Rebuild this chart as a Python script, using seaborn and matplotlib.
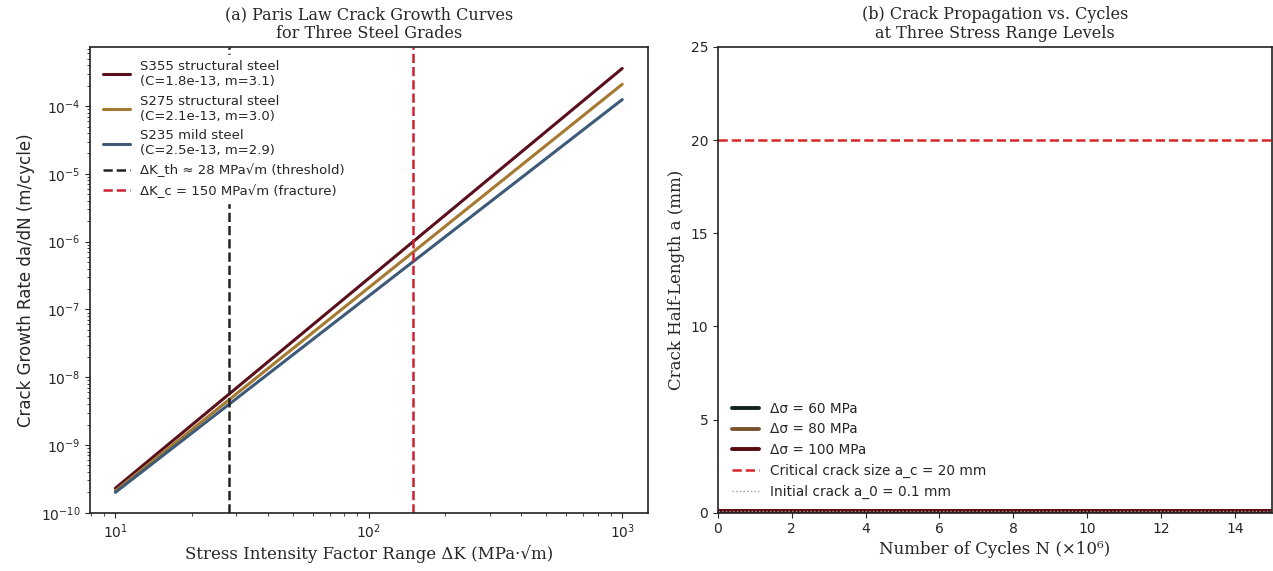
import numpy as np
import pandas as pd
import matplotlib
matplotlib.use("Agg")
import matplotlib.pyplot as plt
import seaborn as sns

# ---- data ----
delta_k = [10, 1000]                       # MPa*sqrt(m)
rate_s355 = [2.3e-10, 3.6e-4]              # m/cycle
rate_s275 = [2.1e-10, 2.1e-4]
rate_s235 = [2.0e-10, 1.25e-4]
steel_labels = ["S355 structural steel\n(C=1.8e-13, m=3.1)",
                "S275 structural steel\n(C=2.1e-13, m=3.0)",
                "S235 mild steel\n(C=2.5e-13, m=2.9)"]
dk_threshold = 28
dk_fracture = 150

cycles_n = [0, 15]                         # x10^6
crack_60 = [0.1, 0.1]                      # mm
crack_80 = [0.1, 0.1]
crack_100 = [0.1, 0.1]
stress_labels = ["Δσ = 60 MPa", "Δσ = 80 MPa", "Δσ = 100 MPa"]
a_critical = 20
a_initial = 0.1

sns.set_style("ticks")
plt.rcParams["font.family"] = ["DejaVu Sans"]

fig = plt.figure(figsize=(12.73, 5.71), dpi=100)
ax1 = fig.add_axes([0.0707, 0.102, 0.438, 0.816])
ax2 = fig.add_axes([0.564, 0.102, 0.435, 0.816])

# ---- panel (a) ----
steel_colors = ["#5a0f1c", "#a57a30", "#3d5a78"]
for vals, lab, col in zip([rate_s355, rate_s275, rate_s235], steel_labels, steel_colors):
    df = pd.DataFrame({"dk": delta_k, "rate": vals})
    sns.lineplot(data=df, x="dk", y="rate", ax=ax1, color=col, lw=2.2, label=lab)
ax1.set_xscale("log")
ax1.set_yscale("log")
ax1.axvline(dk_threshold, color="#222222", ls="--", lw=1.8,
            label="ΔK_th ≈ 28 MPa√m (threshold)")
ax1.axvline(dk_fracture, color="#cc2230", ls="--", lw=1.8,
            label="ΔK_c = 150 MPa√m (fracture)")
ax1.set_xlim(7.94, 1259)
ax1.set_ylim(1.0e-10, 7.5e-4)
ax1.set_xlabel("Stress Intensity Factor Range ΔK (MPa·√m)", family="DejaVu Serif",
               fontsize=12, labelpad=3)
ax1.set_ylabel("Crack Growth Rate da/dN (m/cycle)", fontsize=12)
ax1.set_title("(a) Paris Law Crack Growth Curves\nfor Three Steel Grades",
              family="DejaVu Serif", fontsize=11.5)
leg1 = ax1.legend(loc="upper left", fontsize=9.5, frameon=True, facecolor="white",
                  edgecolor="white", framealpha=1.0, fancybox=False, borderaxespad=0.6)
leg1.set_zorder(5)
ax1.tick_params(labelsize=10)

# ---- panel (b) ----
stress_colors = ["#16241a", "#7a5430", "#5a0a0e"]
for vals, lab, col in zip([crack_60, crack_80, crack_100], stress_labels, stress_colors):
    df = pd.DataFrame({"N": cycles_n, "a": vals})
    sns.lineplot(data=df, x="N", y="a", ax=ax2, color=col, lw=2.8, label=lab)
ax2.axhline(a_critical, color="#d62728", ls="--", lw=1.8,
            label="Critical crack size a_c = 20 mm")
ax2.axhline(a_initial, color="#999999", ls=":", lw=1.0,
            label="Initial crack a_0 = 0.1 mm")
ax2.set_xlim(0, 15)
ax2.set_ylim(0, 25)
ax2.set_xlabel("Number of Cycles N (×10⁶)", family="DejaVu Serif", fontsize=12, labelpad=3)
ax2.set_ylabel("Crack Half-Length a (mm)", family="DejaVu Serif", fontsize=12)
ax2.set_title("(b) Crack Propagation vs. Cycles\nat Three Stress Range Levels",
              family="DejaVu Serif", fontsize=11.5)
ax2.legend(loc="lower left", fontsize=9.8, frameon=True, facecolor="white",
           edgecolor="white", framealpha=1.0, fancybox=False, borderaxespad=0.6)
ax2.tick_params(labelsize=10)

for ax in (ax1, ax2):
    for s in ax.spines.values():
        s.set_color("#222222")
        s.set_linewidth(1.2)

fig.savefig("out.png", dpi=100)
